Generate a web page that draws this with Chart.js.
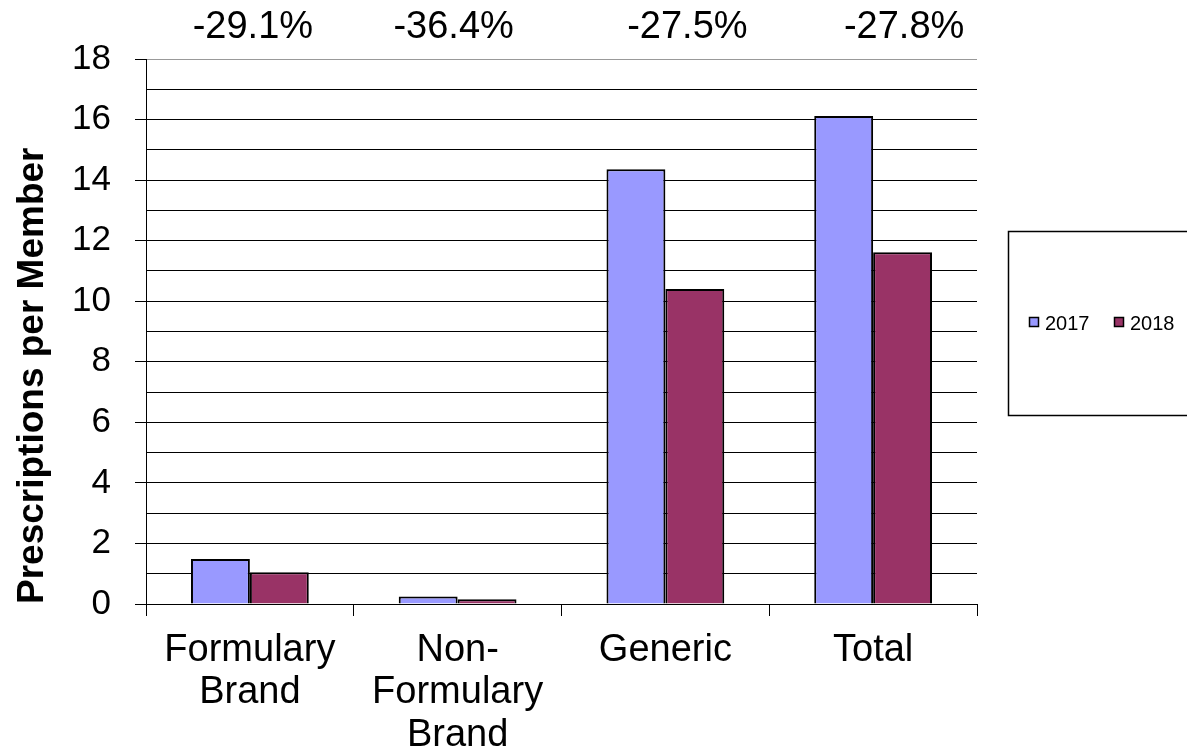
<!DOCTYPE html>
<html>
<head>
<meta charset="utf-8">
<script src="https://cdn.jsdelivr.net/npm/chart.js@4.4.1/dist/chart.umd.min.js"></script>
<style>
  html, body { margin: 0; padding: 0; background: #fff; }
  #wrap { width: 1187px; height: 755px; }
</style>
</head>
<body>
<div id="wrap"><canvas id="myChart" width="1187" height="755"></canvas></div>
<script>
// дані графіка
var categories = [['Formulary', 'Brand'], ['Non-', 'Formulary', 'Brand'], ['Generic'], ['Total']];
var seriesNames = ['2017', '2018'];
var values2017 = [1.49, 0.25, 14.36, 16.12];
var values2018 = [1.05, 0.16, 10.40, 11.62];
var changeLabels = ['-29.1%', '-36.4%', '-27.5%', '-27.8%'];
var yTicks = [0, 2, 4, 6, 8, 10, 12, 14, 16, 18];

var fontFamily = '"Liberation Sans", Arial, sans-serif';

// підписи зі зміною у відсотках над кожною групою
var changePlugin = {
    id: 'changeLabels',
    afterDraw: function (chart, args, opts) {
        var ctx = chart.ctx;
        var xs = chart.scales.x;
        ctx.save();
        ctx.font = '38px ' + fontFamily;
        ctx.fillStyle = '#000';
        ctx.textAlign = 'center';
        ctx.textBaseline = 'middle';
        changeLabels.forEach(function (txt, i) {
            var x = xs.getPixelForValue(i) + opts.shift[i];
            ctx.fillText(txt, x, opts.y);
        });
        ctx.restore();
    }
};

// легенда в рамці праворуч (частково обрізана краєм)
var boxLegend = {
    id: 'boxLegend',
    afterDraw: function (chart, args, opts) {
        var ctx = chart.ctx;
        ctx.save();
        ctx.strokeStyle = '#000';
        ctx.lineWidth = 1.5;
        ctx.strokeRect(opts.left + 0.5, opts.top + 0.5, opts.width, opts.height);
        ctx.font = '20px ' + fontFamily;
        ctx.textBaseline = 'middle';
        ctx.textAlign = 'left';
        var x = opts.left + 21;
        var y = opts.top + opts.height / 2;
        chart.data.datasets.forEach(function (ds) {
            ctx.fillStyle = ds.backgroundColor;
            ctx.fillRect(x, y - 6, 10, 10);
            ctx.strokeStyle = '#000';
            ctx.lineWidth = 1.5;
            ctx.strokeRect(x + 0.5, y - 5.5, 9, 9);
            ctx.fillStyle = '#000';
            ctx.fillText(ds.label, x + 16, y + 1);
            x += 85;
        });
        ctx.restore();
    }
};

var ctx = document.getElementById('myChart').getContext('2d');
var myChart = new Chart(ctx, {
    type: 'bar',
    data: {
        labels: categories,
        datasets: [{
            label: seriesNames[0],
            data: values2017,
            backgroundColor: '#9999FF',
            borderColor: '#000',
            borderWidth: 2,
            borderSkipped: 'start'
        }, {
            label: seriesNames[1],
            data: values2018,
            backgroundColor: '#993366',
            borderColor: '#000',
            borderWidth: 2,
            borderSkipped: 'start'
        }]
    },
    options: {
        responsive: false,
        animation: false,
        categoryPercentage: 0.567,
        barPercentage: 1,
        layout: { padding: { top: 59, right: 210, left: 0, bottom: 0 } },
        plugins: {
            legend: { display: false },
            tooltip: { enabled: false },
            changeLabels: { y: 28, shift: [3, -4, 22, 31] },
            boxLegend: { left: 1008, top: 231, width: 200, height: 184 }
        },
        scales: {
            x: {
                afterFit: function (scale) { scale.height = 151; },
                grid: {
                    offset: true,
                    drawOnChartArea: false,
                    color: '#000',
                    tickLength: 12
                },
                border: { color: '#000', width: 1 },
                ticks: {
                    color: '#000',
                    padding: 13,
                    font: { family: fontFamily, size: 38, lineHeight: 1.12 }
                }
            },
            y: {
                min: 0,
                max: 18,
                afterFit: function (scale) { scale.width = 146; },
                afterBuildTicks: function (scale) {
                    // кожна одиниця — лінія сітки, підписи лише для парних
                    var t = [];
                    for (var v = 0; v <= 18; v++) t.push({ value: v });
                    scale.ticks = t;
                },
                grid: {
                    color: function (c) { return c.tick && c.tick.value === 18 ? '#999' : '#000'; },
                    tickColor: function (c) {
                        return c.tick && yTicks.indexOf(c.tick.value) >= 0 ? '#000' : 'rgba(0,0,0,0)';
                    },
                    tickLength: 11
                },
                border: { color: '#000', width: 1 },
                ticks: {
                    color: '#000',
                    padding: 24,
                    autoSkip: false,
                    font: { family: fontFamily, size: 35 },
                    callback: function (v) { return yTicks.indexOf(v) >= 0 ? v : ''; }
                },
                title: {
                    display: true,
                    text: 'Prescriptions per Member',
                    align: 'start',
                    color: '#000',
                    padding: { top: 11, bottom: 0 },
                    font: { family: fontFamily, size: 37, weight: 'bold', lineHeight: 1.2 }
                }
            }
        }
    },
    plugins: [changePlugin, boxLegend]
});
</script>
</body>
</html>
